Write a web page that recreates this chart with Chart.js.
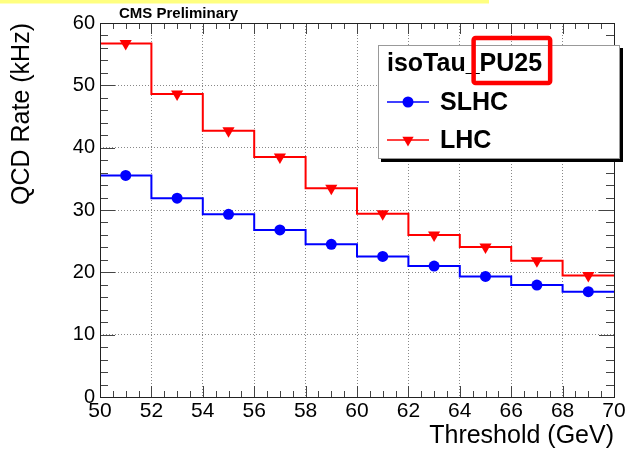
<!DOCTYPE html>
<html>
<head>
<meta charset="utf-8">
<title>isoTau PU25 QCD rate</title>
<script src="https://cdn.jsdelivr.net/npm/chart.js@4/dist/chart.umd.min.js"></script>
<style>
    html, body { margin: 0; padding: 0; background: #fff; }
    #wrap { width: 625px; height: 454px; position: relative; }
</style>
</head>
<body>
<div id="wrap"><canvas id="rateChart" width="625" height="454"></canvas></div>
<script>
// Histogram bins (GeV) and rates (kHz)
const binEdges = [50, 52, 54, 56, 58, 60, 62, 64, 66, 68, 70];
const binCenters = [51, 53, 55, 57, 59, 61, 63, 65, 67, 69];
const slhcRate = [35.55, 31.9, 29.3, 26.8, 24.5, 22.55, 21.0, 19.35, 17.95, 16.9];
const lhcRate = [56.7, 48.6, 42.7, 38.5, 33.5, 29.4, 26.0, 24.05, 21.85, 19.5];
const seriesNames = ['SLHC', 'LHC'];
const legendTitle = ['isoTau_', 'PU25'];

const FONT = "'Liberation Sans', Arial, Helvetica, sans-serif";
const BLUE = '#0000ff';
const RED = '#ff0000';

function stepPoints(values) {
    const pts = values.map((v, i) => ({ x: binEdges[i], y: v }));
    pts.push({ x: binEdges[binEdges.length - 1], y: values[values.length - 1] });
    return pts;
}

function centerPoints(values) {
    return values.map((v, i) => ({ x: binCenters[i], y: v }));
}

function drawMarker(ctx, style, x, y, color) {
    ctx.save();
    ctx.fillStyle = color;
    ctx.beginPath();
    if (style === 'circle') {
        ctx.arc(x, y, 5.5, 0, Math.PI * 2);
    } else {
        // downward triangle
        const r = 6.5;
        ctx.moveTo(x, y + r);
        ctx.lineTo(x - r * 0.866, y - r / 2);
        ctx.lineTo(x + r * 0.866, y - r / 2);
        ctx.closePath();
    }
    ctx.fill();
    ctx.restore();
}

// Yellow strip, inner ticks, frame, label and legend box
const rootStyle = {
    id: 'rootStyle',
    beforeDraw(chart) {
        const ctx = chart.ctx;
        ctx.save();
        ctx.fillStyle = '#fff';
        ctx.fillRect(0, 0, chart.width, chart.height);
        ctx.fillStyle = '#ffff80';
        ctx.fillRect(0, 0, 489, 3.5);
        ctx.restore();
    },
    afterDraw(chart) {
        const ctx = chart.ctx;
        const area = chart.chartArea;
        const xs = chart.scales.x;
        const ys = chart.scales.y;

        ctx.save();
        ctx.lineWidth = 1;
        ctx.strokeStyle = '#444';

        function seg(x1, y1, x2, y2) {
            ctx.beginPath();
            ctx.moveTo(x1, y1);
            ctx.lineTo(x2, y2);
            ctx.stroke();
        }

        // x ticks, top and bottom
        for (let v = xs.min; v <= xs.max + 1e-6; v += 0.5) {
            const px = Math.round(xs.getPixelForValue(v)) + 0.5;
            const major = Math.abs((v - xs.min) % 2) < 1e-6;
            const len = major ? 11 : 6;
            seg(px, area.bottom, px, area.bottom - len);
            seg(px, area.top, px, area.top + len);
        }
        // y ticks, left and right
        for (let v = ys.min; v <= ys.max + 1e-6; v += 2) {
            const py = Math.round(ys.getPixelForValue(v)) + 0.5;
            const major = Math.abs(v % 10) < 1e-6;
            const len = major ? 15 : 8;
            seg(area.left, py, area.left + len, py);
            seg(area.right, py, area.right - len, py);
        }

        // frame
        ctx.strokeStyle = '#222';
        ctx.strokeRect(Math.round(area.left) + 0.5, Math.round(area.top) + 0.5,
            Math.round(area.right - area.left), Math.round(area.bottom - area.top));

        // header text
        ctx.fillStyle = '#000';
        ctx.font = 'bold 15px ' + FONT;
        ctx.textBaseline = 'alphabetic';
        ctx.textAlign = 'left';
        ctx.fillText('CMS Preliminary', 119, 18);

        // legend box with shadow
        const box = { left: 378, top: 45, right: 620, bottom: 159 };
        ctx.fillStyle = '#000';
        ctx.fillRect(box.left + 3, box.top + 3, box.right - box.left, box.bottom - box.top);
        ctx.fillStyle = '#fff';
        ctx.fillRect(box.left, box.top, box.right - box.left, box.bottom - box.top);
        ctx.strokeStyle = '#999';
        ctx.strokeRect(box.left + 0.5, box.top + 0.5, box.right - box.left - 1, box.bottom - box.top - 1);

        // legend title with red highlight
        ctx.fillStyle = '#000';
        ctx.font = 'bold 25px ' + FONT;
        const tx = 387;
        const ty = 71;
        ctx.fillText(legendTitle[0], tx, ty);
        const w0 = ctx.measureText(legendTitle[0]).width;
        ctx.fillText(legendTitle[1], tx + w0, ty);
        const w1 = ctx.measureText(legendTitle[1]).width;
        ctx.strokeStyle = RED;
        ctx.lineWidth = 4.5;
        ctx.lineJoin = 'round';
        ctx.beginPath();
        if (ctx.roundRect) {
            ctx.roundRect(tx + w0 - 6, 38, w1 + 14, 45, 2);
        } else {
            ctx.rect(tx + w0 - 6, 38, w1 + 14, 45);
        }
        ctx.stroke();

        // legend entries
        const entries = [
            { name: seriesNames[0], color: BLUE, style: 'circle', y: 102 },
            { name: seriesNames[1], color: RED, style: 'triangle', y: 140 }
        ];
        entries.forEach(e => {
            ctx.strokeStyle = e.color;
            ctx.lineWidth = 1.5;
            seg(387, e.y, 429, e.y);
            drawMarker(ctx, e.style, 408, e.y, e.color);
            ctx.fillStyle = '#000';
            ctx.font = 'bold 25px ' + FONT;
            ctx.textBaseline = 'middle';
            ctx.fillText(e.name, 440, e.y + 1);
        });

        ctx.restore();
    }
};

const ctx = document.getElementById('rateChart').getContext('2d');

new Chart(ctx, {
    type: 'line',
    data: {
        datasets: [
            {
                label: seriesNames[0] + ' hist',
                data: stepPoints(slhcRate),
                borderColor: BLUE,
                borderWidth: 2,
                stepped: 'before',
                pointRadius: 0,
                fill: false
            },
            {
                label: seriesNames[0],
                data: centerPoints(slhcRate),
                showLine: false,
                pointStyle: 'circle',
                pointRadius: 5.5,
                pointBackgroundColor: BLUE,
                pointBorderColor: BLUE,
                pointBorderWidth: 0
            },
            {
                label: seriesNames[1] + ' hist',
                data: stepPoints(lhcRate),
                borderColor: RED,
                borderWidth: 2,
                stepped: 'before',
                pointRadius: 0,
                fill: false
            },
            {
                label: seriesNames[1],
                data: centerPoints(lhcRate),
                showLine: false,
                pointStyle: 'triangle',
                rotation: 180,
                pointRadius: 7,
                pointBackgroundColor: RED,
                pointBorderColor: RED,
                pointBorderWidth: 0
            }
        ]
    },
    options: {
        responsive: false,
        animation: false,
        events: [],
        layout: { padding: { top: 23, right: 11, left: 0, bottom: 0 } },
        plugins: {
            legend: { display: false },
            tooltip: { enabled: false },
            title: { display: false }
        },
        scales: {
            x: {
                type: 'linear',
                min: binEdges[0],
                max: binEdges[binEdges.length - 1],
                ticks: {
                    stepSize: 2,
                    padding: 2,
                    color: '#000',
                    font: { family: FONT, size: 21 },
                    maxRotation: 0
                },
                grid: { color: '#888', lineWidth: 1, drawTicks: false },
                border: { display: false, dash: [1, 2] },
                title: {
                    display: true,
                    text: 'Threshold (GeV)',
                    align: 'end',
                    color: '#000',
                    font: { family: FONT, size: 25 },
                    padding: { top: 0, bottom: 3 }
                },
                afterFit(scale) {
                    scale.height = 57;
                    scale.paddingLeft = 0;
                    scale.paddingRight = 0;
                }
            },
            y: {
                min: 0,
                max: 60,
                ticks: {
                    stepSize: 10,
                    padding: 5,
                    color: '#000',
                    font: { family: FONT, size: 20 }
                },
                grid: { color: '#888', lineWidth: 1, drawTicks: false },
                border: { display: false, dash: [1, 2] },
                title: {
                    display: true,
                    text: 'QCD Rate (kHz)',
                    align: 'end',
                    color: '#000',
                    font: { family: FONT, size: 25 },
                    padding: { top: 7, bottom: 0 }
                },
                afterFit(scale) {
                    scale.width = 100;
                    scale.paddingTop = 0;
                    scale.paddingBottom = 0;
                }
            }
        }
    },
    plugins: [rootStyle]
});
</script>
</body>
</html>
